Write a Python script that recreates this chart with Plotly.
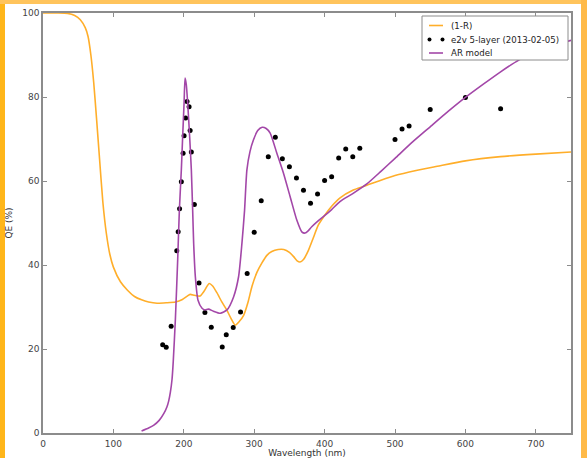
import plotly.graph_objects as go

# Reflectance limit (1-R), percent
wl_refl = [0, 20, 35, 45, 53, 60, 64, 68, 72, 76, 80, 85, 90, 95, 100, 110, 120, 130,
           140, 150, 162, 175, 188, 198, 205, 209, 215, 223, 229, 236, 241, 247, 254,
           261, 267, 273, 279, 285, 291, 297, 304, 311, 318, 325, 334, 342, 350, 356,
           361, 365, 370, 377, 384, 391, 400, 410, 422, 440, 457, 480, 500, 530, 560,
           600, 650, 700, 750]
one_minus_r = [100, 100, 99.9, 99.4, 98.4, 96.5, 94.4, 90, 83.5, 75, 66, 55, 47.5, 42.5,
               39.5, 36, 34, 32.5, 31.7, 31.2, 30.9, 31.0, 31.2, 31.8, 32.6, 33.0, 32.8,
               32.6, 33.8, 35.6, 35.0, 33.4, 31.2, 29.3, 27.3, 25.7, 26.6, 28.0, 31.0,
               35.0, 38.3, 40.5, 42.3, 43.2, 43.7, 43.7, 43.0, 42.0, 41.0, 40.7, 41.3,
               43.5, 46.5, 49.5, 51.8, 54.0, 56.0, 57.8, 58.8, 60.2, 61.3, 62.5, 63.5,
               64.8, 65.8, 66.4, 66.9]

# Measured QE of the e2v 5-layer device
wl_meas = [170, 175, 182, 190, 192, 194, 196.5, 199, 200.4, 202.6, 204.6, 207.5, 209,
           210.7, 215, 221.6, 230, 239, 254.6, 260.3, 270.2, 280.6, 290, 300, 310, 320,
           330, 340, 350, 360, 370, 380, 390, 400, 410, 420, 430, 440, 450, 500, 510,
           520, 550, 600, 650]
qe_meas = [21.0, 20.4, 25.4, 43.4, 47.9, 53.4, 59.8, 66.6, 70.8, 75.0, 78.9, 77.7, 72.0,
           66.9, 54.4, 35.7, 28.7, 25.2, 20.5, 23.4, 25.1, 28.8, 38.0, 47.8, 55.3, 65.8,
           70.4, 65.3, 63.4, 60.7, 57.8, 54.7, 56.9, 60.1, 61.0, 65.5, 67.6, 65.8, 67.8,
           69.9, 72.4, 73.1, 77.0, 79.9, 77.2]

# Anti-reflection coating model
wl_model = [140, 150, 157, 165, 171.5, 176, 178.5, 181, 183.3, 185, 188, 191.3, 193.7,
            196.5, 198.4, 200.4, 201.8, 203.5, 205.5, 208.3, 210.7, 212.6, 214, 216.4,
            220.2, 225.9, 230, 235, 242, 251.8, 261.3, 270.7, 277.8, 282.6, 286.3,
            289.6, 294, 299, 305, 311.3, 317, 322.7, 332.2, 341.5, 351, 360.5, 367.6,
            372.3, 377, 381.7, 390, 398.2, 410, 421.8, 440, 460, 480, 500, 525, 550,
            575, 600, 625, 650, 677, 700, 725, 750]
qe_model = [0.5, 1.2, 1.8, 3.0, 4.6, 6.2, 7.6, 9.8, 12.8, 17.0, 26.9, 41.2, 53, 62.7,
            70.6, 78.6, 84.5, 83, 78.6, 70.6, 62.7, 53, 45.2, 37.2, 31.6, 29.7, 29.3,
            29.5, 29.0, 28.5, 29.3, 32.4, 37.2, 45.2, 53, 62.6, 67, 69.8, 72, 72.8,
            72.5, 71.4, 66.6, 61.9, 56.3, 50.7, 47.9, 47.6, 48.2, 49.1, 50.4, 51.5,
            53.2, 55.1, 57.0, 59.3, 62.3, 65.4, 69.3, 72.9, 76.5, 79.9, 83, 86, 88.9,
            90.8, 92.3, 93.5]

series_names = ["(1-R)", "e2v 5-layer (2013-02-05)", "AR model"]
x_ticks = [0, 100, 200, 300, 400, 500, 600, 700]
y_ticks = [0, 20, 40, 60, 80, 100]

ORANGE = "#FFAE2A"
PURPLE = "#A347A8"
FRAME_GREY = "#8c8c8c"
FONT = "DejaVu Sans"

W, H = 587, 458
ML, MR, MT, MB = 43, 16, 13, 25
PW, PH = W - ML - MR, H - MT - MB


def px_x(px):
    return (px - ML) / PW


def px_y(py):
    return (H - MB - py) / PH


fig = go.Figure()
fig.add_trace(go.Scatter(x=wl_refl, y=one_minus_r, mode="lines", name=series_names[0],
                         line=dict(color=ORANGE, width=1.6, shape="spline", smoothing=0.6)))
fig.add_trace(go.Scatter(x=wl_meas, y=qe_meas, mode="markers", name=series_names[1],
                         marker=dict(color="black", size=5)))
fig.add_trace(go.Scatter(x=wl_model, y=qe_model, mode="lines", name=series_names[2],
                         line=dict(color=PURPLE, width=1.6, shape="spline", smoothing=0.6)))

axis_style = dict(showline=True, linecolor=FRAME_GREY, linewidth=1.5, mirror="allticks",
                  ticks="inside", ticklen=4, tickcolor=FRAME_GREY, tickwidth=1,
                  showgrid=False, zeroline=False, automargin=False,
                  tickfont=dict(family=FONT, size=9, color="#444"))

fig.update_xaxes(range=[0, 750], tickvals=x_ticks, ticklabelstandoff=1,
                 title=dict(text="Wavelength (nm)",
                            font=dict(family=FONT, size=9, color="#333"), standoff=0),
                 **axis_style)
fig.update_yaxes(range=[0, 100], tickvals=y_ticks, title=dict(text="QE (%)",
                 font=dict(family=FONT, size=9, color="#333"), standoff=8),
                 **axis_style)

shapes = []
annotations = []

# Legend box in the upper-right corner, matplotlib style
LX0, LX1, LY0, LY1 = 422, 568, 16, 60
shapes.append(dict(type="rect", xref="paper", yref="paper",
                   x0=px_x(LX0), x1=px_x(LX1), y0=px_y(LY1), y1=px_y(LY0),
                   fillcolor="white", line=dict(color=FRAME_GREY, width=1), layer="above"))
rows_y = [25.5, 39.5, 53]
for name, ry, kind in zip(series_names, rows_y, ["orange", "dots", "purple"]):
    if kind == "dots":
        for cx in (429.5, 442.5):
            shapes.append(dict(type="circle", xref="paper", yref="paper",
                               x0=px_x(cx - 2), x1=px_x(cx + 2),
                               y0=px_y(ry + 2), y1=px_y(ry - 2),
                               fillcolor="black", line=dict(width=0), layer="above"))
    else:
        col = ORANGE if kind == "orange" else PURPLE
        shapes.append(dict(type="line", xref="paper", yref="paper",
                           x0=px_x(429), x1=px_x(443), y0=px_y(ry), y1=px_y(ry),
                           line=dict(color=col, width=1.6), layer="above"))
    annotations.append(dict(x=px_x(449), y=px_y(ry), xref="paper", yref="paper",
                            text=name, showarrow=False, xanchor="left", yanchor="middle",
                            font=dict(family=FONT, size=8.6, color="#222")))

# Decorative frame bands around the figure
frame = [
    (0, 0, 5, H, "#FFB61A"),
    (0, 0, W, 4, "#FFC45C"),
    (581, 0, W, H, "#FFBA48"),
]
for x0, y0, x1, y1, col in frame:
    shapes.append(dict(type="rect", xref="paper", yref="paper",
                       x0=px_x(x0), x1=px_x(x1), y0=px_y(y1), y1=px_y(y0),
                       fillcolor=col, line=dict(width=0), layer="above"))

fig.update_layout(
    width=W, height=H,
    margin=dict(l=ML, r=MR, t=MT, b=MB, autoexpand=False),
    paper_bgcolor="white", plot_bgcolor="white",
    shapes=shapes,
    annotations=annotations,
    showlegend=False,
)

fig.write_html("out.html")
